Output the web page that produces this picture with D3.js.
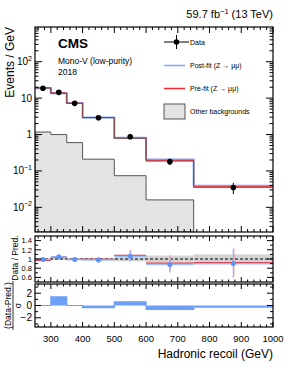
<!DOCTYPE html>
<meta charset="utf-8">
<script src="https://d3js.org/d3.v7.min.js"></script>
<style>
  body { margin: 0; background: #fff; }
  svg { font-family: "Liberation Sans", Arial, sans-serif; }
</style>
<div id="chart"></div>
<script>
// bin edges (GeV)
const edges = [250, 300, 350, 400, 500, 600, 750, 1000];
// events / GeV
const dataVals = [18.6, 14.4, 7.2, 2.9, 0.87, 0.18, 0.035];
const dataErr = [0.6, 0.5, 0.4, 0.17, 0.1, 0.035, 0.012];
const postFit = [18.8, 13.7, 7.3, 2.96, 0.82, 0.205, 0.039];
const preFit = [19.2, 13.9, 7.3, 2.93, 0.8, 0.195, 0.037];
const stackLine = [19.0, 13.6, 7.2, 2.9, 0.79, 0.185, 0.035];
const otherBkg = [1.17, 1.0, 0.6, 0.21, 0.074, 0.016, 0];
// ratio panel
const ratioPost = [0.99, 1.05, 0.99, 0.98, 1.06, 0.88, 0.9];
const ratioPre = [0.97, 1.04, 0.99, 0.99, 1.08, 0.91, 0.92];
const bandHalf = [0.02, 0.02, 0.02, 0.02, 0.05, 0.075, 0.1];
// pull panel
const pulls = [0, 1.4, 0, -0.35, 0.6, -0.65, -0.25];

const W = 291, H = 376;
const L = 35, R = 273;
const main = {top: 27, bottom: 232};
const rat = {top: 236, bottom: 282};
const pul = {top: 284, bottom: 327};

const svg = d3.select("#chart").append("svg")
  .attr("width", W).attr("height", H);

const x = d3.scaleLinear().domain([250, 1000]).range([L, R]);
const y = d3.scaleLog().domain([2.1e-3, 900]).range([main.bottom, main.top]);
const yr = d3.scaleLinear().domain([0.5, 1.5]).range([rat.bottom, rat.top]);
const yp = d3.scaleLinear().domain([-3.5, 3.5]).range([pul.bottom, pul.top]);

const bins = d3.range(dataVals.length).map(i => ({
  i, lo: edges[i], hi: edges[i + 1], mid: (edges[i] + edges[i + 1]) / 2
}));

// step path helper
function stepPath(vals, ys) {
  let p = "";
  vals.forEach((v, i) => {
    const yy = ys(v);
    p += (i === 0 ? `M${x(edges[i])},${yy}` : `L${x(edges[i])},${yy}`) + `L${x(edges[i + 1])},${yy}`;
  });
  return p;
}

// ---------- main panel ----------
svg.append("clipPath").attr("id", "mclip")
  .append("rect").attr("x", L).attr("y", main.top)
  .attr("width", R - L).attr("height", main.bottom - main.top);

const gm = svg.append("g").attr("clip-path", "url(#mclip)");

// other backgrounds (filled)
const bkBins = bins.filter(b => otherBkg[b.i] > 0);
let bp = `M${x(edges[0])},${main.bottom}`;
bkBins.forEach(b => {
  bp += `L${x(b.lo)},${y(otherBkg[b.i])}L${x(b.hi)},${y(otherBkg[b.i])}`;
});
bp += `L${x(bkBins[bkBins.length - 1].hi)},${main.bottom}Z`;
gm.append("path").attr("d", bp)
  .attr("fill", "#e3e3e3").attr("stroke", "#555").attr("stroke-width", 1);

gm.append("path").attr("d", stepPath(postFit, y))
  .attr("fill", "none").attr("stroke", "#80a8f6").attr("stroke-width", 2);
gm.append("path").attr("d", stepPath(preFit, y))
  .attr("fill", "none").attr("stroke", "#f02a2a").attr("stroke-width", 1);
gm.append("path").attr("d", stepPath(stackLine, y))
  .attr("fill", "none").attr("stroke", "#555").attr("stroke-width", 0.8);

// data points
gm.selectAll(".derr").data(bins).join("line")
  .attr("x1", d => x(d.mid)).attr("x2", d => x(d.mid))
  .attr("y1", d => y(dataVals[d.i] + dataErr[d.i]))
  .attr("y2", d => y(dataVals[d.i] - dataErr[d.i]))
  .attr("stroke", "#000").attr("stroke-width", 1);
gm.selectAll(".dpt").data(bins).join("circle")
  .attr("cx", d => x(d.mid)).attr("cy", d => y(dataVals[d.i]))
  .attr("r", 2.8).attr("fill", "#000");

// ---------- ratio panel ----------
const gr = svg.append("g");
gr.selectAll(".band").data(bins).join("rect")
  .attr("x", d => x(d.lo)).attr("width", d => x(d.hi) - x(d.lo))
  .attr("y", d => yr(1 + bandHalf[d.i]))
  .attr("height", d => yr(1 - bandHalf[d.i]) - yr(1 + bandHalf[d.i]))
  .attr("fill", "#c8c8c8").attr("opacity", 0.8);
gr.append("line").attr("x1", L).attr("x2", R)
  .attr("y1", yr(1)).attr("y2", yr(1))
  .attr("stroke", "#000").attr("stroke-width", 1).attr("stroke-dasharray", "3,2");

// red (pre-fit) bars
gr.selectAll(".rpre").data(bins).join("line")
  .attr("x1", d => x(d.lo)).attr("x2", d => x(d.hi))
  .attr("y1", d => yr(ratioPre[d.i])).attr("y2", d => yr(ratioPre[d.i]))
  .attr("stroke", "#f03030").attr("stroke-width", 1.2);
gr.selectAll(".rpreE").data(bins).join("line")
  .attr("x1", d => x(d.mid) + 0.5).attr("x2", d => x(d.mid) + 0.5)
  .attr("y1", d => yr(ratioPre[d.i] * (1 + dataErr[d.i] / dataVals[d.i])))
  .attr("y2", d => yr(ratioPre[d.i] * (1 - dataErr[d.i] / dataVals[d.i])))
  .attr("stroke", "#f2a0a8").attr("stroke-width", 1.2);
// blue (post-fit)
gr.selectAll(".rpost").data(bins).join("line")
  .attr("x1", d => x(d.lo)).attr("x2", d => x(d.hi))
  .attr("y1", d => yr(ratioPost[d.i])).attr("y2", d => yr(ratioPost[d.i]))
  .attr("stroke", "#8fb5f7").attr("stroke-width", 1.6).attr("opacity", 0.85);
gr.selectAll(".rpostE").data(bins).join("line")
  .attr("x1", d => x(d.mid)).attr("x2", d => x(d.mid))
  .attr("y1", d => yr(ratioPost[d.i] * (1 + dataErr[d.i] / dataVals[d.i])))
  .attr("y2", d => yr(ratioPost[d.i] * (1 - dataErr[d.i] / dataVals[d.i])))
  .attr("stroke", "#8fb5f7").attr("stroke-width", 1.2);
gr.selectAll(".rpt").data(bins).join("circle")
  .attr("cx", d => x(d.mid)).attr("cy", d => yr(ratioPost[d.i]))
  .attr("r", 2.5).attr("fill", "#5c93f5");

// ---------- pull panel ----------
const gp = svg.append("g");
gp.selectAll(".pbar").data(bins).join("rect")
  .attr("x", d => x(d.lo)).attr("width", d => x(d.hi) - x(d.lo))
  .attr("y", d => yp(Math.max(0, pulls[d.i])))
  .attr("height", d => Math.abs(yp(pulls[d.i]) - yp(0)))
  .attr("fill", "#6d9ff7");
let pp = "";
bins.forEach(b => {
  const v = yp(pulls[b.i]);
  pp += (b.i === 0 ? `M${x(b.lo)},${v}` : `L${x(b.lo)},${v}`) + `L${x(b.hi)},${v}`;
});
gp.append("path").attr("d", pp).attr("fill", "none")
  .attr("stroke", "#6d9ff7").attr("stroke-width", 1.2);

// ---------- frames and ticks ----------
const xMajor = d3.range(300, 1001, 100);
const xMinor = d3.range(260, 1000, 20).filter(v => v % 100 !== 0);

function frame(top, bottom, majLen, minLen) {
  const g = svg.append("g");
  g.append("rect").attr("x", L).attr("y", top)
    .attr("width", R - L).attr("height", bottom - top)
    .attr("fill", "none").attr("stroke", "#000").attr("stroke-width", 1.2);
  xMajor.forEach(v => {
    g.append("line").attr("x1", x(v)).attr("x2", x(v)).attr("y1", bottom).attr("y2", bottom - majLen).attr("stroke", "#000");
    g.append("line").attr("x1", x(v)).attr("x2", x(v)).attr("y1", top).attr("y2", top + majLen).attr("stroke", "#000");
  });
  xMinor.forEach(v => {
    g.append("line").attr("x1", x(v)).attr("x2", x(v)).attr("y1", bottom).attr("y2", bottom - minLen).attr("stroke", "#000");
    g.append("line").attr("x1", x(v)).attr("x2", x(v)).attr("y1", top).attr("y2", top + minLen).attr("stroke", "#000");
  });
  return g;
}
function yTicks(g, scale, major, minor, majLen, minLen) {
  major.forEach(v => {
    g.append("line").attr("x1", L).attr("x2", L + majLen).attr("y1", scale(v)).attr("y2", scale(v)).attr("stroke", "#000");
    g.append("line").attr("x1", R).attr("x2", R - majLen).attr("y1", scale(v)).attr("y2", scale(v)).attr("stroke", "#000");
  });
  minor.forEach(v => {
    g.append("line").attr("x1", L).attr("x2", L + minLen).attr("y1", scale(v)).attr("y2", scale(v)).attr("stroke", "#000");
    g.append("line").attr("x1", R).attr("x2", R - minLen).attr("y1", scale(v)).attr("y2", scale(v)).attr("stroke", "#000");
  });
}

// main frame
const fm = frame(main.top, main.bottom, 6, 3);
const yMajorMain = [1e-2, 1e-1, 1, 10, 100];
const yMinorMain = [];
[1e-3, 1e-2, 1e-1, 1, 10, 100].forEach(dec => {
  d3.range(2, 10).forEach(k => {
    const v = k * dec;
    if (v > y.domain()[0] && v < y.domain()[1]) yMinorMain.push(v);
  });
});
yTicks(fm, y, yMajorMain, yMinorMain, 7, 3.5);

const yLabMain = [
  {v: 100, base: "10", sup: "2"},
  {v: 10, base: "10", sup: ""},
  {v: 1, base: "1", sup: ""},
  {v: 0.1, base: "10", sup: "\u22121"},
  {v: 0.01, base: "10", sup: "\u22122"}
];
yLabMain.forEach(l => {
  const t = svg.append("text").attr("x", 32).attr("y", y(l.v) + 3.5)
    .attr("text-anchor", "end").attr("font-size", 10);
  t.append("tspan").text(l.base);
  if (l.sup) t.append("tspan").attr("dy", -4.5).attr("font-size", 7).text(l.sup);
});

// ratio frame
const fr = frame(rat.top, rat.bottom, 5, 2.5);
yTicks(fr, yr, [0.6, 0.8, 1, 1.2, 1.4], [0.7, 0.9, 1.1, 1.3], 6, 3);
[0.6, 0.8, 1, 1.2, 1.4].forEach(v => {
  svg.append("text").attr("x", 32).attr("y", yr(v) + 2.8)
    .attr("text-anchor", "end").attr("font-size", 7.5)
    .text(d3.format("~g")(v));
});

// pull frame
const fp = frame(pul.top, pul.bottom, 5, 2.5);
yTicks(fp, yp, [-2, 0, 2], [-3, -1, 1, 3], 6, 3);
[-2, 0, 2].forEach(v => {
  svg.append("text").attr("x", 32).attr("y", yp(v) + 3.5)
    .attr("text-anchor", "end").attr("font-size", 10)
    .text(v < 0 ? "\u2212" + Math.abs(v) : v);
});

// x tick labels
xMajor.forEach(v => {
  svg.append("text").attr("x", x(v)).attr("y", 342)
    .attr("text-anchor", "middle").attr("font-size", 9.5).text(v);
});

// axis titles
svg.append("text").attr("x", R).attr("y", 358)
  .attr("text-anchor", "end").attr("font-size", 12).text("Hadronic recoil (GeV)");
svg.append("text").attr("transform", `translate(14,${main.top}) rotate(-90)`)
  .attr("text-anchor", "end").attr("font-size", 12).text("Events / GeV");
svg.append("text").attr("transform", `translate(18,${(rat.top + rat.bottom) / 2 - 1}) rotate(-90)`)
  .attr("text-anchor", "middle").attr("font-size", 8.5).text("Data / Pred.");
svg.append("text").attr("transform", `translate(11,${(pul.top + pul.bottom) / 2}) rotate(-90)`)
  .attr("text-anchor", "middle").attr("font-size", 8.5).text("(Data-Pred.)");
svg.append("line").attr("x1", 13).attr("x2", 13)
  .attr("y1", pul.top - 3).attr("y2", pul.bottom + 3).attr("stroke", "#000").attr("stroke-width", 0.8);
svg.append("text").attr("transform", `translate(21,${(pul.top + pul.bottom) / 2}) rotate(-90)`)
  .attr("text-anchor", "middle").attr("font-size", 8.5).text("\u03c3");

// header
const lumi = svg.append("text").attr("x", R).attr("y", 18)
  .attr("text-anchor", "end").attr("font-size", 11);
lumi.append("tspan").text("59.7 fb");
lumi.append("tspan").attr("dy", -4).attr("font-size", 7.5).text("\u22121");
lumi.append("tspan").attr("dy", 4).text(" (13 TeV)");

svg.append("text").attr("x", 58).attr("y", 48)
  .attr("font-size", 13.5).attr("font-weight", "bold").text("CMS");
svg.append("text").attr("x", 58).attr("y", 64)
  .attr("font-size", 8.5).text("Mono-V (low-purity)");
svg.append("text").attr("x", 58).attr("y", 75)
  .attr("font-size", 8.5).text("2018");

// legend
const lg = svg.append("g");
const lx1 = 164, lx2 = 185, tx = 190;
lg.append("line").attr("x1", lx1).attr("x2", lx2 + 4).attr("y1", 42).attr("y2", 42).attr("stroke", "#000");
lg.append("line").attr("x1", 176.5).attr("x2", 176.5).attr("y1", 35).attr("y2", 49).attr("stroke", "#000");
lg.append("circle").attr("cx", 176.5).attr("cy", 42).attr("r", 2.8).attr("fill", "#000");
lg.append("text").attr("x", tx).attr("y", 44.5).attr("font-size", 7).text("Data");

lg.append("line").attr("x1", lx1).attr("x2", lx2).attr("y1", 65.5).attr("y2", 65.5)
  .attr("stroke", "#80a8f6").attr("stroke-width", 1.5);
lg.append("text").attr("x", tx).attr("y", 68).attr("font-size", 7).text("Post-fit (Z \u2192 \u03bc\u03bc)");

lg.append("line").attr("x1", lx1).attr("x2", lx2).attr("y1", 88.5).attr("y2", 88.5)
  .attr("stroke", "#f02a2a").attr("stroke-width", 1.5);
lg.append("text").attr("x", tx).attr("y", 91).attr("font-size", 7).text("Pre-fit (Z \u2192 \u03bc\u03bc)");

lg.append("rect").attr("x", lx1).attr("y", 104).attr("width", lx2 - lx1).attr("height", 15)
  .attr("fill", "#e3e3e3").attr("stroke", "#555");
lg.append("text").attr("x", tx).attr("y", 114).attr("font-size", 7).text("Other backgrounds");
</script>
